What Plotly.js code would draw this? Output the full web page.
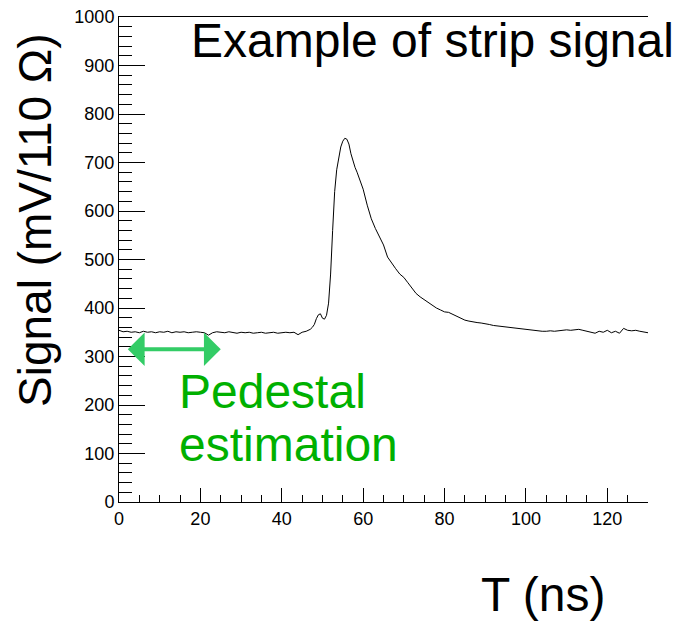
<!DOCTYPE html>
<html>
<head>
<meta charset="utf-8">
<script src="https://cdn.plot.ly/plotly-3.0.1.min.js"></script>
<style>html,body{margin:0;padding:0;background:#fff;}#chart{width:675px;height:621px;}</style>
</head>
<body>
<div id="chart"></div>
<script>
// Time samples (ns) and signal (mV / 110 Ohm)
const timeNs = [
  0,1,2,3,4,5,6,7,8,9,10,11,12,13,14,15,16,17,18,19,20,21,22,23,24,25,26,27,28,29,
  30,31,32,33,34,35,36,37,38,39,40,41,42,43,44,45,46,47,47.5,48,48.5,49,49.5,50,50.5,
  51,51.5,52,52.5,53,53.5,54,54.5,55,55.5,56,56.5,57,57.5,58,58.5,59,60,61,62,63,64,65,
  66,67,68,69,70,71,72,73,74,75,76,77,78,79,80,81,82,83,84,85,86,87,88,89,90,91,92,93,
  94,95,96,97,98,99,100,101,102,103,104,105,106,107,108,109,110,111,112,113,114,115,116,
  117,118,119,120,121,122,123,124,125,126,127,128,129,130
];
const signal = [
  354,351,352,350,351,349,352,350,351,349,351,350,352,349,351,350,351,349,350,351,
  350,349,344,349,351,350,349,351,350,348,350,349,350,348,349,350,348,349,350,348,
  349,350,349,350,345,350,352,356,360,366,378,386,388,379,377,
  385,410,470,560,640,685,712,732,744,750,748,738,718,702,690,680,668,645,612,584,
  564,548,530,505,492,481,470,463,452,441,430,423,417,411,406,400,396,392,391,387,
  382,378,375,373,371,370,369,368,366,364,363,361,360,359,358,357,356,355,354,354,
  353,352,352,353,352,353,354,355,354,355,356,354,352,349,348,352,350,354,349,352,
  348,358,354,353,354,352,350,349,348
];
const titleText = "Example of strip signal";
const yTitle = "Signal (mV/110 \u03A9)";
const xTitle = "T (ns)";
const noteLines = ["Pedestal", "estimation"];
const pedestalWindow = [1.8, 25.0];
const arrowLevel = 315;

const W = 675, H = 621;
const L = 119, R = 27, T = 17, B = 119;
const pw = W - L - R, ph = H - T - B;
const px = (x) => (x - L) / pw;
const py = (y) => (H - B - y) / ph;

const font = "Liberation Sans, Arial, Helvetica, sans-serif";

const trace = {
  x: timeNs, y: signal, type: "scatter", mode: "lines",
  line: {color: "#000", width: 1}, hoverinfo: "skip"
};

const layout = {
  width: W, height: H,
  margin: {l: L, r: R, t: T, b: B, pad: 0},
  paper_bgcolor: "#fff", plot_bgcolor: "#fff",
  showlegend: false,
  font: {family: font, color: "#000", size: 18},
  xaxis: {
    range: [0, 130], showgrid: false, zeroline: false,
    showline: true, linecolor: "#000", linewidth: 1, mirror: true,
    ticks: "inside", ticklen: 14, tickwidth: 1, tickcolor: "#000",
    dtick: 20, tick0: 0,
    tickfont: {family: font, size: 18, color: "#000"},
    minor: {ticks: "inside", ticklen: 7, dtick: 5, tickcolor: "#000", tickwidth: 1, showgrid: false}
  },
  yaxis: {
    range: [0, 1000], showgrid: false, zeroline: false,
    showline: true, linecolor: "#000", linewidth: 1, mirror: false,
    ticks: "inside", ticklen: 26, tickwidth: 1, tickcolor: "#000",
    dtick: 100, tick0: 0,
    tickfont: {family: font, size: 18, color: "#000"},
    minor: {ticks: "inside", ticklen: 13, dtick: 20, tickcolor: "#000", tickwidth: 1, showgrid: false}
  },
  annotations: [
    {text: titleText, xref: "paper", yref: "paper", x: px(189), y: py(40),
     xanchor: "left", yanchor: "middle", showarrow: false,
     font: {family: font, size: 48, color: "#000"}},
    {text: yTitle, xref: "paper", yref: "paper", x: px(35), y: py(220),
     xanchor: "center", yanchor: "middle", showarrow: false, textangle: -90,
     font: {family: font, size: 46, color: "#000"}},
    {text: xTitle, xref: "paper", yref: "paper", x: px(543), y: py(594),
     xanchor: "center", yanchor: "middle", showarrow: false,
     font: {family: font, size: 48, color: "#000"}},
    {text: noteLines[0], xref: "paper", yref: "paper", x: px(177), y: py(391),
     xanchor: "left", yanchor: "middle", showarrow: false,
     font: {family: font, size: 48, color: "#00b000"}},
    {text: noteLines[1], xref: "paper", yref: "paper", x: px(177), y: py(444),
     xanchor: "left", yanchor: "middle", showarrow: false,
     font: {family: font, size: 48, color: "#00b000"}},
    {text: "", x: pedestalWindow[1], y: arrowLevel, xref: "x", yref: "y",
     ax: pedestalWindow[0], ay: arrowLevel, axref: "x", ayref: "y",
     showarrow: true, arrowhead: 1, startarrowhead: 1, arrowside: "end+start",
     arrowsize: 1.4, startarrowsize: 1.4, arrowwidth: 4, arrowcolor: "#33cc66",
     standoff: 0, startstandoff: 0}
  ]
};

Plotly.newPlot("chart", [trace], layout, {staticPlot: true, displayModeBar: false});
</script>
</body>
</html>
